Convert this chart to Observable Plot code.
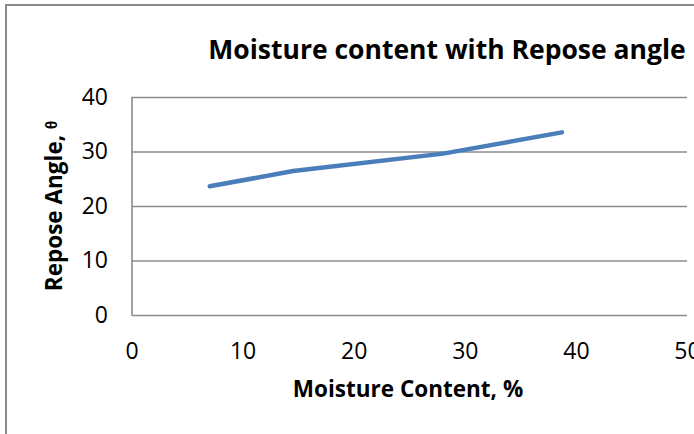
<!DOCTYPE html>
<html>
<head>
<meta charset="utf-8">
<script src="https://cdn.jsdelivr.net/npm/d3@7"></script>
<script src="https://cdn.jsdelivr.net/npm/@observablehq/plot@0.6"></script>
<style>
  html, body { margin: 0; padding: 0; background: #fff; }
  #wrap { position: relative; width: 694px; height: 434px; overflow: hidden; background: #fff; font-family: "Open Sans", sans-serif; }
  #bl { position: absolute; left: 5px; top: 4px; width: 2px; height: 430px; background: #8a8a8a; }
  #bt { position: absolute; left: 5px; top: 4px; width: 689px; height: 2px; background: #8a8a8a; }
  .lbl { position: absolute; white-space: nowrap; font-weight: bold; color: #000; line-height: 1; }
  #title { top: 35.5px; left: 447px; transform: translateX(-50%); font-size: 26.5px; }
  #xlab { top: 378px; left: 408px; transform: translateX(-50%); font-size: 22.5px; }
  #ylab { top: 206px; left: 54px; transform: translate(-50%, -50%) rotate(-90deg); font-size: 22.5px; }
  #chart { position: absolute; left: 0; top: 0; }
  #chart svg { font-family: "Open Sans", sans-serif; }
</style>
</head>
<body>
<div id="wrap">
  <div id="bl"></div>
  <div id="bt"></div>
  <div id="chart"></div>
  <div id="title" class="lbl"></div>
  <div id="xlab" class="lbl"></div>
  <div id="ylab" class="lbl"></div>
</div>
<script>
const moisture = [7.0, 14.5, 28.0, 38.7];
const reposeAngle = [23.7, 26.5, 29.7, 33.6];
const xTicks = [0, 10, 20, 30, 40, 50];
const yTicks = [0, 10, 20, 30, 40];
const gridValues = [10, 20, 30, 40];
const titleText = "Moisture content with Repose angle";
const xLabel = "Moisture Content, %";
const yLabel = "Repose Angle, ᶿ";

const data = moisture.map((m, i) => ({ m, a: reposeAngle[i] }));

const chart = Plot.plot({
  width: 694,
  height: 434,
  marginLeft: 131.5,
  marginRight: 7,
  marginTop: 97,
  marginBottom: 119,
  style: { background: "transparent", fontSize: "23px", color: "#000" },
  x: { domain: [0, 50], ticks: xTicks, tickSize: 0, tickPadding: 27, label: null, tickFormat: d3.format("d") },
  y: { domain: [0, 40], ticks: yTicks, tickSize: 0, tickPadding: 24, label: null, tickFormat: d3.format("d") },
  marks: [
    Plot.ruleY(gridValues, { stroke: "#8c8c8c", strokeWidth: 1.6, strokeOpacity: 1 }),
    Plot.ruleY([0], { stroke: "#8c8c8c", strokeWidth: 1.6 }),
    Plot.ruleX([0], { stroke: "#8c8c8c", strokeWidth: 1.6 }),
    Plot.line(data, { x: "m", y: "a", stroke: "#4a7ebb", strokeWidth: 4.5, strokeLinecap: "round", strokeLinejoin: "round" })
  ]
});
document.getElementById("chart").appendChild(chart);
document.getElementById("title").textContent = titleText;
document.getElementById("xlab").textContent = xLabel;
document.getElementById("ylab").textContent = yLabel;
</script>
</body>
</html>
